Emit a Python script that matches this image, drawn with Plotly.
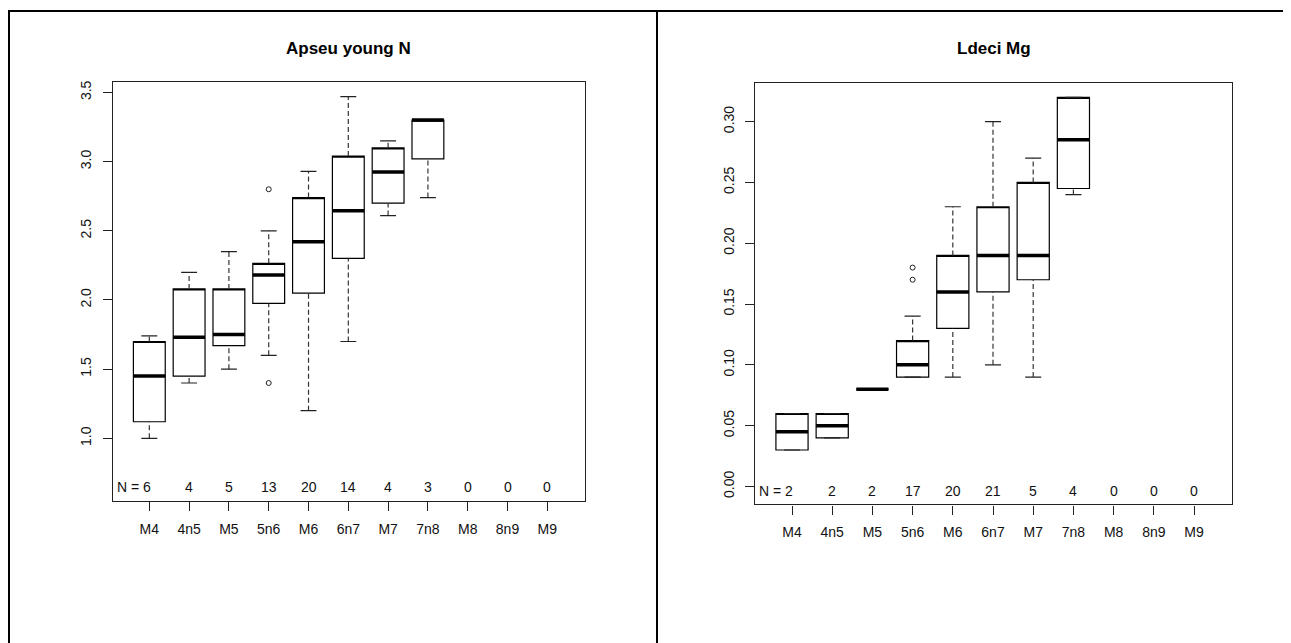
import plotly.graph_objects as go

# ---------------- data ----------------
categories = ["M4", "4n5", "M5", "5n6", "M6", "6n7", "M7", "7n8", "M8", "8n9", "M9"]

# Left panel: Apseu young N
left_title = "Apseu young N"
left_n = [6, 4, 5, 13, 20, 14, 4, 3, 0, 0, 0]
left_low = [1.00, 1.40, 1.50, 1.60, 1.20, 1.70, 2.61, 2.74]
left_q1 = [1.12, 1.45, 1.67, 1.975, 2.05, 2.30, 2.70, 3.02]
left_med = [1.45, 1.73, 1.75, 2.18, 2.42, 2.645, 2.925, 3.30]
left_q3 = [1.70, 2.08, 2.08, 2.265, 2.74, 3.04, 3.10, 3.30]
left_high = [1.74, 2.20, 2.35, 2.50, 2.93, 3.47, 3.15, 3.30]
left_out_cat = ["5n6", "5n6"]
left_out_val = [2.80, 1.40]
left_yticks = [1.0, 1.5, 2.0, 2.5, 3.0, 3.5]

# Right panel: Ldeci Mg
right_title = "Ldeci Mg"
right_n = [2, 2, 2, 17, 20, 21, 5, 4, 0, 0, 0]
right_low = [0.03, 0.04, 0.08, 0.09, 0.09, 0.10, 0.09, 0.24]
right_q1 = [0.03, 0.04, 0.08, 0.09, 0.13, 0.16, 0.17, 0.245]
right_med = [0.045, 0.05, 0.08, 0.10, 0.16, 0.19, 0.19, 0.285]
right_q3 = [0.06, 0.06, 0.08, 0.12, 0.19, 0.23, 0.25, 0.32]
right_high = [0.06, 0.06, 0.08, 0.14, 0.23, 0.30, 0.27, 0.32]
right_out_cat = ["5n6", "5n6"]
right_out_val = [0.17, 0.18]
right_yticks = [0.00, 0.05, 0.10, 0.15, 0.20, 0.25, 0.30]

# ---------------- styling ----------------
OFF = 8                      # page body margin
W, H = 1291 - OFF, 643 - OFF
FONT = "Liberation Sans, Arial, sans-serif"
BOXW = 0.8
CAPW = 0.4
LINE = "#222222"

fig = go.Figure()


def px_x(p):
    return (p - OFF) / W


def px_y(p):
    return 1 - (p - OFF) / H


def add_panel(xa, ya, low, q1, med, q3, high, out_cat, out_val):
    pos = [categories.index(c) + 1 for c in categories[:len(med)]]
    fig.add_trace(go.Box(
        x=pos, q1=q1, median=q3, q3=q3, lowerfence=q1, upperfence=q3,
        width=BOXW, whiskerwidth=0, fillcolor="white",
        line=dict(color="black", width=1.2), boxpoints=False,
        xaxis=xa, yaxis=ya, showlegend=False, hoverinfo="skip"))
    # dashed whiskers
    wx, wy = [], []
    for p, a, b, c, d in zip(pos, low, q1, q3, high):
        if a < b:
            wx += [p, p, None]
            wy += [a, b, None]
        if d > c:
            wx += [p, p, None]
            wy += [c, d, None]
    fig.add_trace(go.Scatter(x=wx, y=wy, mode="lines", xaxis=xa, yaxis=ya,
                             line=dict(color="#333333", width=1.2, dash="5px,3px"),
                             showlegend=False, hoverinfo="skip"))
    # staples
    sx, sy = [], []
    for p, a, d in zip(pos, low, high):
        for v in (a, d):
            sx += [p - CAPW / 2, p + CAPW / 2, None]
            sy += [v, v, None]
    fig.add_trace(go.Scatter(x=sx, y=sy, mode="lines", xaxis=xa, yaxis=ya,
                             line=dict(color="#222222", width=1.2),
                             showlegend=False, hoverinfo="skip"))
    # thick medians
    mx, my = [], []
    for p, m in zip(pos, med):
        mx += [p - BOXW / 2, p + BOXW / 2, None]
        my += [m, m, None]
    fig.add_trace(go.Scatter(x=mx, y=my, mode="lines", xaxis=xa, yaxis=ya,
                             line=dict(color="black", width=3.5),
                             showlegend=False, hoverinfo="skip"))
    # outliers
    fig.add_trace(go.Scatter(x=[categories.index(c) + 1 for c in out_cat], y=out_val,
                             mode="markers", xaxis=xa, yaxis=ya,
                             marker=dict(symbol="circle-open", size=5, color="#222222",
                                         line=dict(width=1)),
                             showlegend=False, hoverinfo="skip"))


add_panel("x", "y", left_low, left_q1, left_med, left_q3, left_high, left_out_cat, left_out_val)
add_panel("x2", "y2", right_low, right_q1, right_med, right_q3, right_high, right_out_cat, right_out_val)

tickfont = dict(family=FONT, size=14, color="#111111")
xcommon = dict(tickmode="array", tickvals=list(range(1, len(categories) + 1)), ticktext=categories,
               ticks="outside", ticklen=9, tickcolor=LINE, tickwidth=1,
               showline=True, linecolor=LINE, linewidth=1.3, mirror=True,
               showgrid=False, zeroline=False, tickfont=tickfont, ticklabelstandoff=6)
ycommon = dict(ticks="outside", ticklen=9, tickcolor=LINE, tickwidth=1,
               showline=True, linecolor=LINE, linewidth=1.3, mirror=True,
               showgrid=False, zeroline=False, tickfont=tickfont, tickangle=-90,
               ticklabelstandoff=6)

fig.update_layout(
    width=W, height=H, margin=dict(l=0, r=0, t=0, b=0),
    paper_bgcolor="white", plot_bgcolor="white", showlegend=False,
    xaxis=dict(domain=[px_x(112.7), px_x(585)], range=[0.080, 11.947], anchor="y", **xcommon),
    yaxis=dict(domain=[px_y(500.7), px_y(80.7)], range=[0.546, 3.572], anchor="x",
               tickmode="array", tickvals=left_yticks,
               ticktext=[f"{v:.1f}" for v in left_yticks], **ycommon),
    xaxis2=dict(domain=[px_x(755.3), px_x(1232)], range=[0.087, 11.945], anchor="y2", **xcommon),
    yaxis2=dict(domain=[px_y(504), px_y(81.3)], range=[-0.01475, 0.3317], anchor="x2",
                tickmode="array", tickvals=right_yticks,
                ticktext=[f"{v:.2f}" for v in right_yticks], **ycommon),
)

annotations = []
# titles
annotations.append(dict(text=f"<b>{left_title}</b>", x=px_x(348.9), y=px_y(47), xref="paper", yref="paper",
                        showarrow=False, font=dict(family=FONT, size=17, color="black"),
                        xanchor="center", yanchor="middle"))
annotations.append(dict(text=f"<b>{right_title}</b>", x=px_x(993.7), y=px_y(47), xref="paper", yref="paper",
                        showarrow=False, font=dict(family=FONT, size=17, color="black"),
                        xanchor="center", yanchor="middle"))
# N counts
for xa, ya, counts, yfrac in (("x", "y domain", left_n, 0.033), ("x2", "y2 domain", right_n, 0.032)):
    for i, n in enumerate(counts):
        if i == 0:
            annotations.append(dict(text=f"N = {n}", x=i + 1 + 0.08, y=yfrac, xref=xa, yref=ya,
                                    showarrow=False, xanchor="right", yanchor="middle",
                                    font=tickfont))
        else:
            annotations.append(dict(text=str(n), x=i + 1, y=yfrac, xref=xa, yref=ya,
                                    showarrow=False, xanchor="center", yanchor="middle",
                                    font=tickfont))
fig.update_layout(annotations=annotations)

# outer page frame lines (top, left, middle divider)
frame = [
    dict(x0=0, x1=1, y0=px_y(9), y1=px_y(9)),
    dict(x0=px_x(9), x1=px_x(9), y0=0, y1=px_y(9)),
    dict(x0=px_x(657), x1=px_x(657), y0=0, y1=px_y(9)),
]
fig.update_layout(shapes=[dict(type="line", xref="paper", yref="paper", line=dict(color="black", width=2), **f)
                          for f in frame])

fig.write_html("out.html")
